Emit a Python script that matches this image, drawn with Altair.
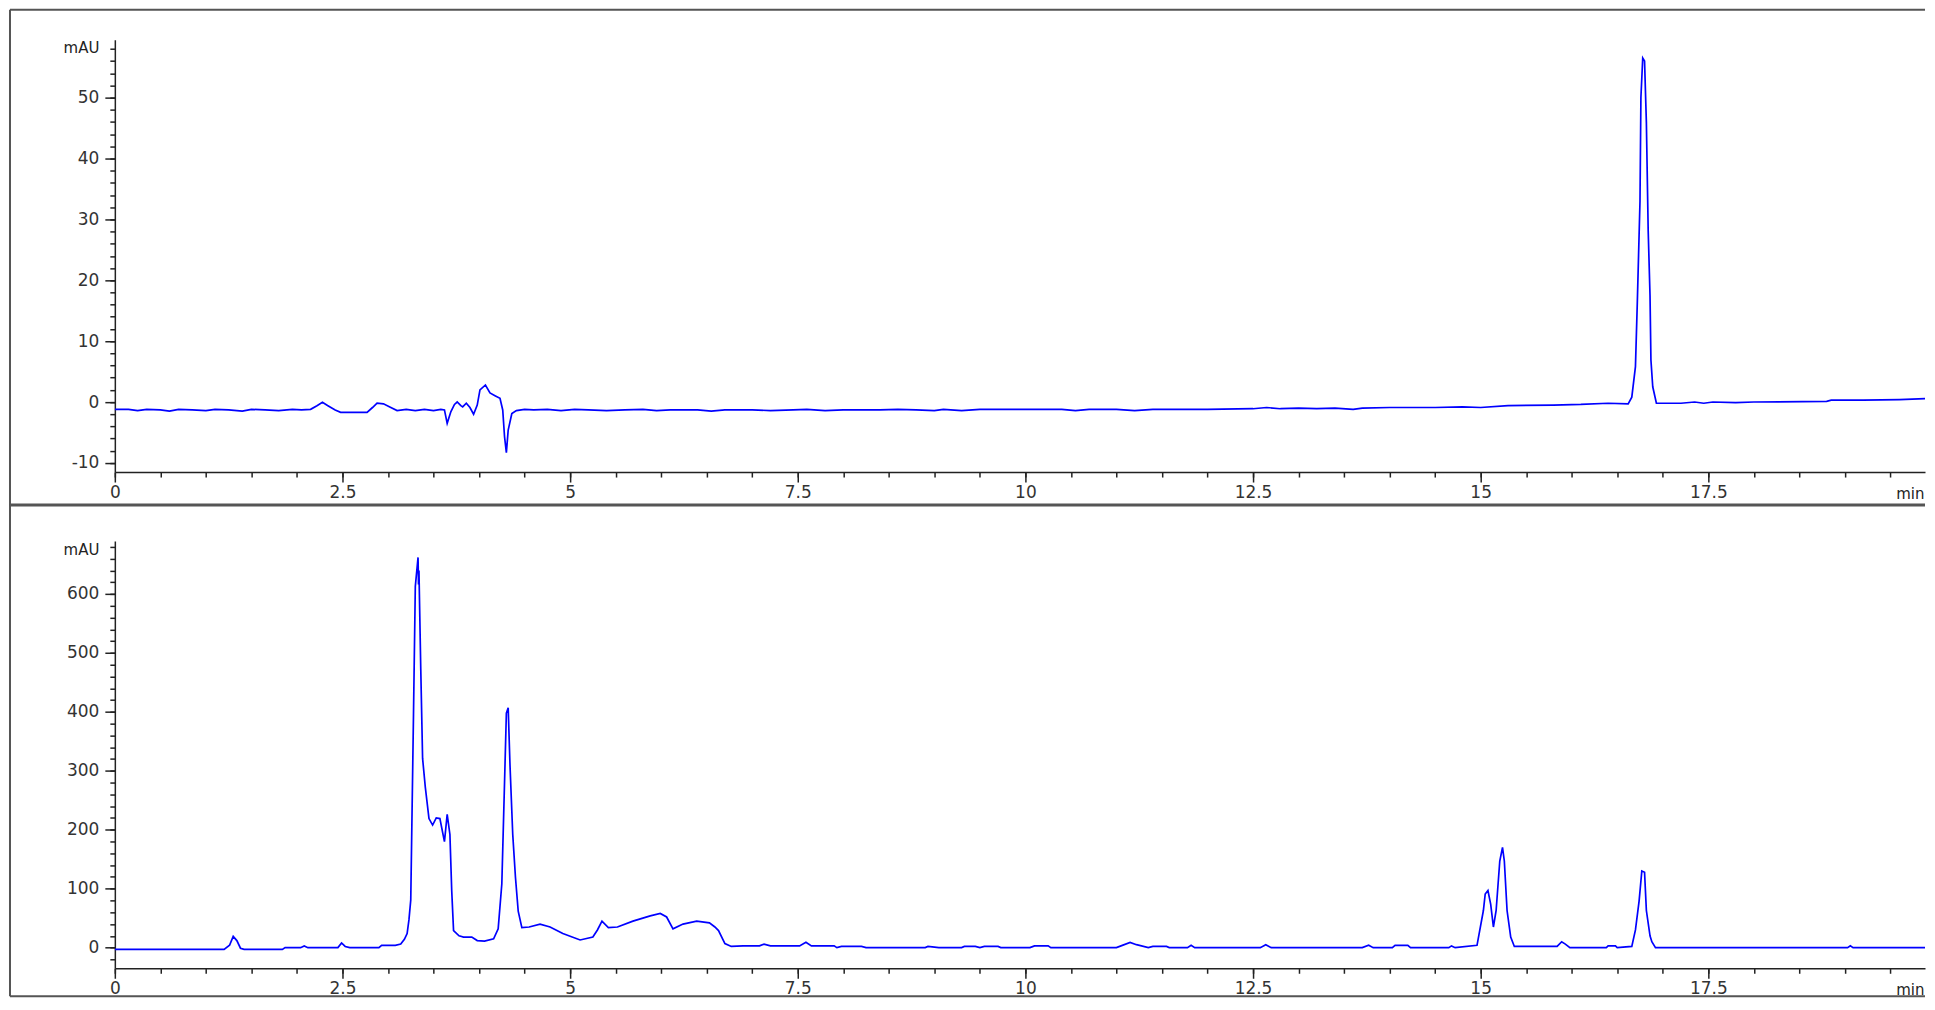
import altair as alt
import pandas as pd

# ---------------- data ----------------
top_time = [0.00, 0.15, 0.25, 0.35, 0.50, 0.60, 0.70, 0.85, 1.00, 1.10, 1.25, 1.40, 1.50, 1.65,
            1.80, 1.95, 2.05, 2.15, 2.22, 2.28, 2.34, 2.42, 2.48, 2.77, 2.83, 2.88, 2.95, 3.02,
            3.10, 3.20, 3.30, 3.40, 3.50, 3.58, 3.62, 3.65, 3.69, 3.73, 3.76, 3.80, 3.82, 3.86,
            3.90, 3.94, 3.98, 4.01, 4.07, 4.12, 4.18, 4.23, 4.26, 4.28, 4.30, 4.32, 4.36, 4.41,
            4.50, 4.60, 4.75, 4.90, 5.05, 5.20, 5.40, 5.60, 5.80, 5.95, 6.10, 6.40, 6.55, 6.70,
            7.00, 7.20, 7.45, 7.60, 7.80, 8.00, 8.40, 8.60, 8.80, 9.00, 9.10, 9.30, 9.50, 10.00,
            10.40, 10.55, 10.70, 11.00, 11.20, 11.40, 12.00, 12.50, 12.65, 12.80, 13.00, 13.20,
            13.40, 13.60, 13.70, 14.00, 14.50, 14.80, 15.00, 15.30, 15.80, 16.10, 16.40, 16.62,
            16.66, 16.70, 16.72, 16.75, 16.76, 16.78, 16.80, 16.82, 16.84, 16.86, 16.87, 16.89,
            16.93, 17.20, 17.35, 17.45, 17.55, 17.80, 18.00, 18.80, 18.85, 19.20, 19.60, 19.97]
top_mau = [-1.2, -1.2, -1.4, -1.2, -1.3, -1.5, -1.2, -1.3, -1.4, -1.2, -1.3, -1.5, -1.2, -1.3,
           -1.4, -1.2, -1.3, -1.2, -0.6, -0.05, -0.6, -1.3, -1.7, -1.7, -0.9, -0.2, -0.3, -0.8,
           -1.4, -1.2, -1.4, -1.2, -1.4, -1.2, -1.3, -3.5, -1.6, -0.4, 0.0, -0.6, -0.8, -0.2,
           -0.9, -2.0, -0.5, 2.0, 2.8, 1.5, 1.0, 0.6, -1.3, -5.7, -8.3, -4.6, -1.9, -1.4,
           -1.2, -1.3, -1.2, -1.4, -1.2, -1.3, -1.4, -1.3, -1.2, -1.4, -1.3, -1.3, -1.5, -1.3,
           -1.3, -1.4, -1.3, -1.2, -1.4, -1.3, -1.3, -1.2, -1.3, -1.4, -1.2, -1.4, -1.2, -1.2,
           -1.2, -1.4, -1.2, -1.2, -1.4, -1.2, -1.2, -1.1, -0.9, -1.1, -1.0, -1.1,
           -1.0, -1.2, -1.0, -0.9, -0.9, -0.8, -0.9, -0.6, -0.5, -0.4, -0.2, -0.3,
           0.8, 5.8, 16.1, 33.0, 50.0, 56.5, 56.0, 45.9, 28.1, 17.5, 6.9, 2.5,
           -0.2, -0.2, 0.0, -0.2, 0.0, -0.1, 0.0, 0.1, 0.3, 0.3, 0.4, 0.6]

bottom_time = [0.00, 0.60, 1.20, 1.26, 1.30, 1.34, 1.38, 1.42, 1.84, 1.87, 2.04, 2.08, 2.12,
               2.45, 2.49, 2.53, 2.58, 2.90, 2.93, 3.08, 3.14, 3.18, 3.21, 3.23, 3.25, 3.26,
               3.28, 3.30, 3.33, 3.335, 3.34, 3.36, 3.38, 3.41, 3.45, 3.49, 3.53, 3.57, 3.62,
               3.65, 3.68, 3.70, 3.72, 3.78, 3.83, 3.92, 3.98, 4.06, 4.16, 4.21, 4.25, 4.28,
               4.30, 4.32, 4.34, 4.37, 4.40, 4.43, 4.47, 4.55, 4.67, 4.78, 4.92, 5.11, 5.25,
               5.30, 5.35, 5.42, 5.52, 5.69, 5.88, 5.99, 6.06, 6.13, 6.24, 6.39, 6.53, 6.59,
               6.63, 6.70, 6.77, 6.90, 7.08, 7.13, 7.20, 7.52, 7.59, 7.65, 7.90, 7.93, 7.98,
               8.20, 8.25, 8.90, 8.93, 9.05, 9.30, 9.33, 9.45, 9.50, 9.55, 9.70, 9.73, 10.05,
               10.10, 10.25, 10.28, 11.00, 11.05, 11.15, 11.22, 11.35, 11.40, 11.55, 11.58,
               11.78, 11.82, 11.86, 12.58, 12.64, 12.70, 13.70, 13.77, 13.82, 14.03, 14.06,
               14.20, 14.23, 14.65, 14.68, 14.72, 14.96, 15.03, 15.05, 15.08, 15.11, 15.14,
               15.17, 15.21, 15.24, 15.26, 15.29, 15.33, 15.37, 15.84, 15.89, 15.93, 15.98,
               16.38, 16.40, 16.48, 16.50, 16.66, 16.70, 16.74, 16.77, 16.80, 16.82, 16.86,
               16.88, 16.92, 19.03, 19.06, 19.09, 19.97]
bottom_mau = [-3, -3, -3, 4, 19, 12, -1, -3, -3, 0, 0, 3, 0,
              0, 8, 2, 0, 0, 4, 4, 6, 14, 24, 47, 81, 186,
              395, 613, 662, 616, 640, 472, 321, 272, 219, 208, 220, 219, 180,
              226, 192, 96, 29, 20, 18, 18, 12, 11, 15, 32, 108, 281,
              398, 407, 309, 192, 119, 62, 34, 35, 40, 35, 24, 13, 18,
              30, 45, 34, 35, 45, 54, 58, 52, 32, 40, 45, 42, 35,
              29, 7, 2, 3, 3, 6, 3, 3, 9, 3, 3, 0, 2,
              2, 0, 0, 2, 0, 0, 2, 2, 0, 2, 2, 0, 0,
              3, 3, 0, 0, 3, 9, 5, 0, 2, 2, 0,
              0, 4, 0, 0, 5, 0, 0, 4, 0, 0, 4,
              4, 0, 0, 3, 0, 4, 63, 91, 97, 74, 35,
              63, 147, 170, 147, 63, 18, 2, 2, 10, 6, 0,
              0, 3, 3, 0, 2, 30, 79, 130, 128, 63, 20,
              10, 0, 0, 3, 0, 0]

x_major_ticks = [0, 2.5, 5, 7.5, 10, 12.5, 15, 17.5]
x_minor_ticks = [i * 0.5 for i in range(40)]
top_major_ticks = [-10, 0, 10, 20, 30, 40, 50]
top_minor_ticks = list(range(-10, 59, 2))
bottom_major_ticks = [0, 100, 200, 300, 400, 500, 600]
bottom_minor_ticks = list(range(-20, 681, 20))

# ---------------- style ----------------
FONT = "DejaVu Sans"
INK = "#222222"
LINE = "#0000ff"
FRAME = "#555555"
W = 1813
TOP_H = 433
BOT_H = 428
X_DOMAIN = [0, 19.88]
LABEL_EXPR = "'' + datum.value"


def panel(df, y_domain, y_major, y_minor, height, frame_top, frame_bottom, bottom_width, title_y):
    xs = alt.Scale(domain=X_DOMAIN, nice=False, zero=False)
    ys = alt.Scale(domain=y_domain, nice=False, zero=False)

    major_x = alt.Axis(values=x_major_ticks, orient="bottom", labelExpr=LABEL_EXPR, labelFlush=False,
                       tickSize=10, tickWidth=1.5, tickColor=INK, domainColor=INK, domainWidth=1.5,
                       labelFont=FONT, labelFontSize=17, labelColor="#333333", labelPadding=2,
                       grid=False, title="min", titleFont=FONT, titleFontSize=15,
                       titleFontWeight="normal", titleColor=INK, titleX=W - 1, titleY=21,
                       titleAlign="right", titleBaseline="middle")
    major_y = alt.Axis(values=y_major, orient="left", labelExpr=LABEL_EXPR, tickSize=10, tickWidth=1.5,
                       tickColor=INK, domainColor=INK, domainWidth=1.5, labelFont=FONT,
                       labelFontSize=17, labelColor="#333333", labelPadding=6, grid=False,
                       labelOverlap=False, title="mAU", titleFont=FONT, titleFontSize=15,
                       titleFontWeight="normal", titleColor=INK, titleAngle=0, titleAlign="right",
                       titleBaseline="middle", titleX=-16, titleY=title_y)
    minor_x = alt.Axis(values=x_minor_ticks, orient="bottom", labels=False, domain=False,
                       tickSize=5, tickWidth=1.5, tickColor=INK, grid=False, title=None)
    minor_y = alt.Axis(values=y_minor, orient="left", labels=False, domain=False,
                       tickSize=5, tickWidth=1.5, tickColor=INK, grid=False, title=None)

    trace = alt.Chart(df).mark_line(color=LINE, strokeWidth=1.7, clip=True).encode(
        x=alt.X("t:Q", scale=xs, axis=major_x),
        y=alt.Y("v:Q", scale=ys, axis=major_y),
        order="t:Q",
    )
    minor = alt.Chart(df).mark_line(opacity=0, clip=True).encode(
        x=alt.X("t:Q", scale=xs, axis=minor_x),
        y=alt.Y("v:Q", scale=ys, axis=minor_y),
    )

    one = pd.DataFrame({"k": [0]})
    left_px, right_px = -105, W
    frame = [
        alt.Chart(one).mark_rule(color=FRAME, strokeWidth=2).encode(
            x=alt.value(left_px), y=alt.value(frame_top), y2=alt.value(frame_bottom)),
        alt.Chart(one).mark_rule(color=FRAME, strokeWidth=2).encode(
            x=alt.value(left_px), x2=alt.value(right_px), y=alt.value(frame_top)),
        alt.Chart(one).mark_rule(color=FRAME, strokeWidth=bottom_width).encode(
            x=alt.value(left_px), x2=alt.value(right_px), y=alt.value(frame_bottom)),
    ]
    return alt.layer(minor, trace, *frame).resolve_axis(x="independent", y="independent").properties(
        width=W, height=height)


top_df = pd.DataFrame({"t": top_time, "v": top_mau})
bottom_df = pd.DataFrame({"t": bottom_time, "v": bottom_mau})

top = panel(top_df, [-11.5, 59.5], top_major_ticks, top_minor_ticks, TOP_H, -30, 466, 3, 8)
bottom = panel(bottom_df, [-35, 690], bottom_major_ticks, bottom_minor_ticks, BOT_H, -36, 456, 2, 9)

chart = alt.vconcat(top, bottom, spacing=69, bounds="flush", padding=0,
                    background="white").configure_view(strokeWidth=0)

chart.save("out.html", embed_options={"renderer": "svg", "actions": False})
